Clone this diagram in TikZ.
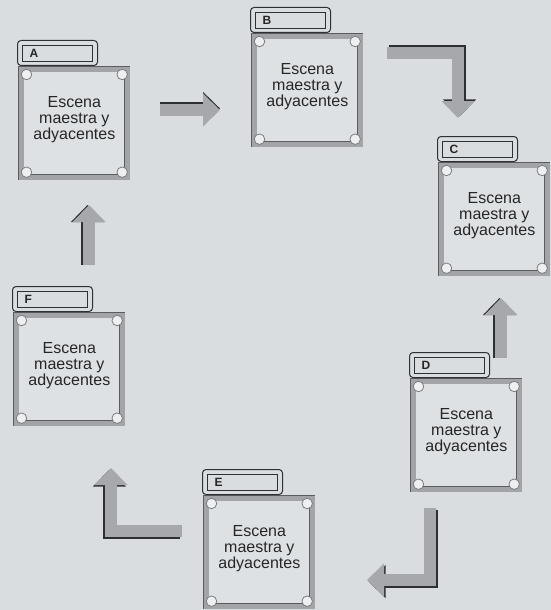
\documentclass[tikz,border=0pt]{standalone}
\usepackage{fontspec}
\setmainfont{Liberation Sans}
\usetikzlibrary{arrows.meta,calc}

\definecolor{paper}{HTML}{D9DDE0}
\definecolor{boxfill}{HTML}{DEE1E3}
\definecolor{framedark}{HTML}{5A5C5F}
\definecolor{frameband}{HTML}{A2A4A7}
\definecolor{cornerfill}{HTML}{EDEFF0}
\definecolor{cornerline}{HTML}{7C7E81}
\definecolor{arrowgray}{HTML}{A6A8AB}
\definecolor{arrowedge}{HTML}{2E2F31}
\definecolor{tagline}{HTML}{2F3033}

\tikzset{
  scenebox/.style={draw=framedark, double=frameband, double distance=4.5pt,
    line width=0.7pt, fill=boxfill, minimum width=106pt, minimum height=108pt,
    inner sep=0pt, anchor=north west},
  scenetext/.style={align=center, font=\fontsize{16}{16}\selectfont,
    text=black!85, inner sep=0pt},
  tagouter/.style={draw=tagline, line width=1pt, rounded corners=3.5pt,
    fill=paper, minimum width=80pt, minimum height=25pt, inner sep=0pt,
    anchor=south west},
  taginner/.style={draw=tagline, line width=0.9pt, fill=paper,
    text width=56pt, inner xsep=7pt, minimum height=16pt, inner ysep=0pt,
    align=left, font=\fontsize{12}{12}\selectfont\bfseries, text=black!85},
  cornerdot/.style={circle, draw=cornerline, line width=0.8pt,
    fill=cornerfill, minimum size=10.5pt, inner sep=0pt},
  flowbody/.style={draw=arrowgray, line width=12pt, line join=miter,
    -{Triangle[width=32pt,length=17pt]}},
  flowshade/.style={draw=arrowedge, line width=12pt, line join=miter,
    -{Triangle[width=32pt,length=17pt]}},
}

% one scene panel: name, top-left corner of the frame, tag letter
\newcommand{\scenepanel}[4]{%
  \node[scenebox] (#1) at (#2+3,#3+3) {};
  \node[scenetext] (#1txt) at ([yshift=4pt]#1.center)
    {Escena\\maestra y\\adyacentes};
  \node[tagouter] (#1tag) at ([shift={(-4,-3)}]#1.north west) {};
  \node[taginner] (#1lab) at (#1tag.center) {#4};
  \node[cornerdot] (#1c1) at ([shift={(5.5,5.5)}]#1.north west) {};
  \node[cornerdot] (#1c2) at ([shift={(-5.5,5.5)}]#1.north east) {};
  \node[cornerdot] (#1c3) at ([shift={(5.5,-5.5)}]#1.south west) {};
  \node[cornerdot] (#1c4) at ([shift={(-5.5,-5.5)}]#1.south east) {};
}

% a fat arrow with a dark rim on one side
\newcommand{\flowarrow}[3]{%
  \begin{scope}[transform canvas={#1}]
    \draw[flowshade] #2;
  \end{scope}
  \draw[flowbody] #2;
}

\begin{document}
\begin{tikzpicture}[x=1pt,y=-1pt]
  \fill[paper] (0,0) rectangle (551,610);
  \useasboundingbox (0,0) rectangle (551,610);

  \scenepanel{A}{18}{66}{A}
  \scenepanel{B}{251}{33}{B}
  \scenepanel{C}{438}{162}{C}
  \scenepanel{D}{410}{378}{D}
  \scenepanel{E}{203}{495}{E}
  \scenepanel{F}{13}{312}{F}

  % arrow end points
  \coordinate (ab1) at (160,110);  \coordinate (ab2) at (220,110);
  \coordinate (bc1) at (387,53);   \coordinate (bc2) at (458,118);
  \coordinate (dc1) at (501,358);  \coordinate (dc2) at (501,298);
  \coordinate (de1) at (430,508);  \coordinate (de2) at (367,580);
  \coordinate (ef1) at (182,531);  \coordinate (ef2) at (111,468);
  \coordinate (fa1) at (89,265);   \coordinate (fa2) at (89,205);

  \flowarrow{yshift=1.6pt}{(ab1) -- (ab2)}{}
  \flowarrow{xshift=1.6pt,yshift=1.6pt}{(bc1) -| (bc2)}{}
  \flowarrow{xshift=-1.6pt}{(dc1) -- (dc2)}{}
  \flowarrow{xshift=1.6pt,yshift=-1.6pt}{(de1) |- (de2)}{}
  \flowarrow{xshift=-1.6pt,yshift=-1.6pt}{(ef1) -| (ef2)}{}
  \flowarrow{xshift=-1.6pt}{(fa1) -- (fa2)}{}
\end{tikzpicture}
\end{document}
